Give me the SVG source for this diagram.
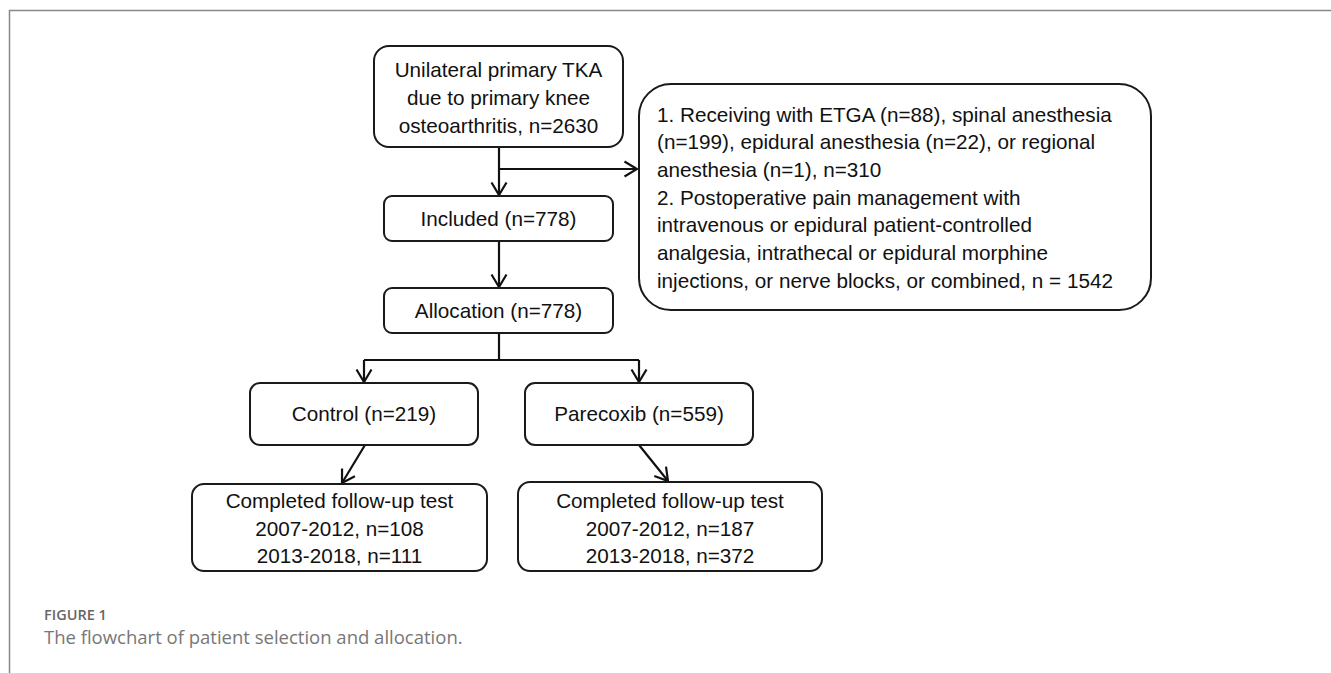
<svg xmlns="http://www.w3.org/2000/svg" width="1331" height="673" viewBox="0 0 1331 673">
<style>
.box{fill:#fff;stroke:#1a1a1a;stroke-width:2}
.t{font-family:"Liberation Sans",Arial,sans-serif;font-size:20.7px;fill:#111}
.c{text-anchor:middle}
.ln{fill:none;stroke:#111;stroke-width:2.2}
.cap1{font-family:"Open Sans","Liberation Sans",sans-serif;font-size:14.5px;font-weight:600;fill:#666}
.cap2{font-family:"Open Sans","Liberation Sans",sans-serif;font-size:18.5px;fill:#777}
</style>
<defs>
<marker id="ah" viewBox="-14 -10 16 20" markerWidth="16" markerHeight="20" refX="0" refY="0" orient="auto" markerUnits="userSpaceOnUse">
<path d="M-12.5,-7.5 L0,0 L-12.5,7.5" fill="none" stroke="#111" stroke-width="2.2"/>
</marker>
</defs>
<rect width="1331" height="673" fill="#fff"/>
<g id="frame">
<path d="M9.5,673 V10.5 H1331" fill="none" stroke="#888" stroke-width="1.5"/>
</g>
<g id="connectors">
<path class="ln" d="M499,147 V195" marker-end="url(#ah)"/>
<path class="ln" d="M499,169 H637" marker-end="url(#ah)"/>
<path class="ln" d="M499,241 V287" marker-end="url(#ah)"/>
<path class="ln" d="M499,333 V360"/>
<path class="ln" d="M364,360 H639"/>
<path class="ln" d="M364,360 V382" marker-end="url(#ah)"/>
<path class="ln" d="M639,360 V382" marker-end="url(#ah)"/>
<path class="ln" d="M365,445 L342,483" marker-end="url(#ah)"/>
<path class="ln" d="M639,445 L668,481" marker-end="url(#ah)"/>
</g>
<g id="node-tka">
<rect class="box" x="374" y="46" width="249" height="101" rx="15"/>
<text class="t c" x="498.5" y="77">Unilateral primary TKA</text>
<text class="t c" x="498.5" y="105">due to primary knee</text>
<text class="t c" x="498.5" y="133">osteoarthritis, n=2630</text>
</g>
<g id="node-excluded">
<rect class="box" x="639" y="84" width="512" height="226" rx="32"/>
<text class="t" x="657" y="122">1. Receiving with ETGA (n=88), spinal anesthesia</text>
<text class="t" x="657" y="149">(n=199), epidural anesthesia (n=22), or regional</text>
<text class="t" x="657" y="177">anesthesia (n=1), n=310</text>
<text class="t" x="657" y="205">2. Postoperative pain management with</text>
<text class="t" x="657" y="232">intravenous or epidural patient-controlled</text>
<text class="t" x="657" y="260">analgesia, intrathecal or epidural morphine</text>
<text class="t" x="657" y="288">injections, or nerve blocks, or combined, n = 1542</text>
</g>
<g id="node-included">
<rect class="box" x="384" y="196" width="229" height="45" rx="8"/>
<text class="t c" x="498.5" y="226">Included (n=778)</text>
</g>
<g id="node-allocation">
<rect class="box" x="384" y="288" width="229" height="45" rx="8"/>
<text class="t c" x="498.5" y="318">Allocation (n=778)</text>
</g>
<g id="node-control">
<rect class="box" x="250" y="383" width="228" height="62" rx="10"/>
<text class="t c" x="364" y="421">Control (n=219)</text>
</g>
<g id="node-parecoxib">
<rect class="box" x="525" y="383" width="228" height="62" rx="10"/>
<text class="t c" x="639" y="421">Parecoxib (n=559)</text>
</g>
<g id="node-control-followup">
<rect class="box" x="192" y="484" width="295" height="87" rx="12"/>
<text class="t c" x="339.5" y="508">Completed follow-up test</text>
<text class="t c" x="339.5" y="536">2007-2012, n=108</text>
<text class="t c" x="339.5" y="563">2013-2018, n=111</text>
</g>
<g id="node-parecoxib-followup">
<rect class="box" x="518" y="482" width="304" height="89" rx="12"/>
<text class="t c" x="670" y="508">Completed follow-up test</text>
<text class="t c" x="670" y="536">2007-2012, n=187</text>
<text class="t c" x="670" y="563">2013-2018, n=372</text>
</g>
<g id="caption">
<text class="cap1" x="44" y="620">FIGURE 1</text>
<text class="cap2" x="44" y="644">The flowchart of patient selection and allocation.</text>
</g>
</svg>
